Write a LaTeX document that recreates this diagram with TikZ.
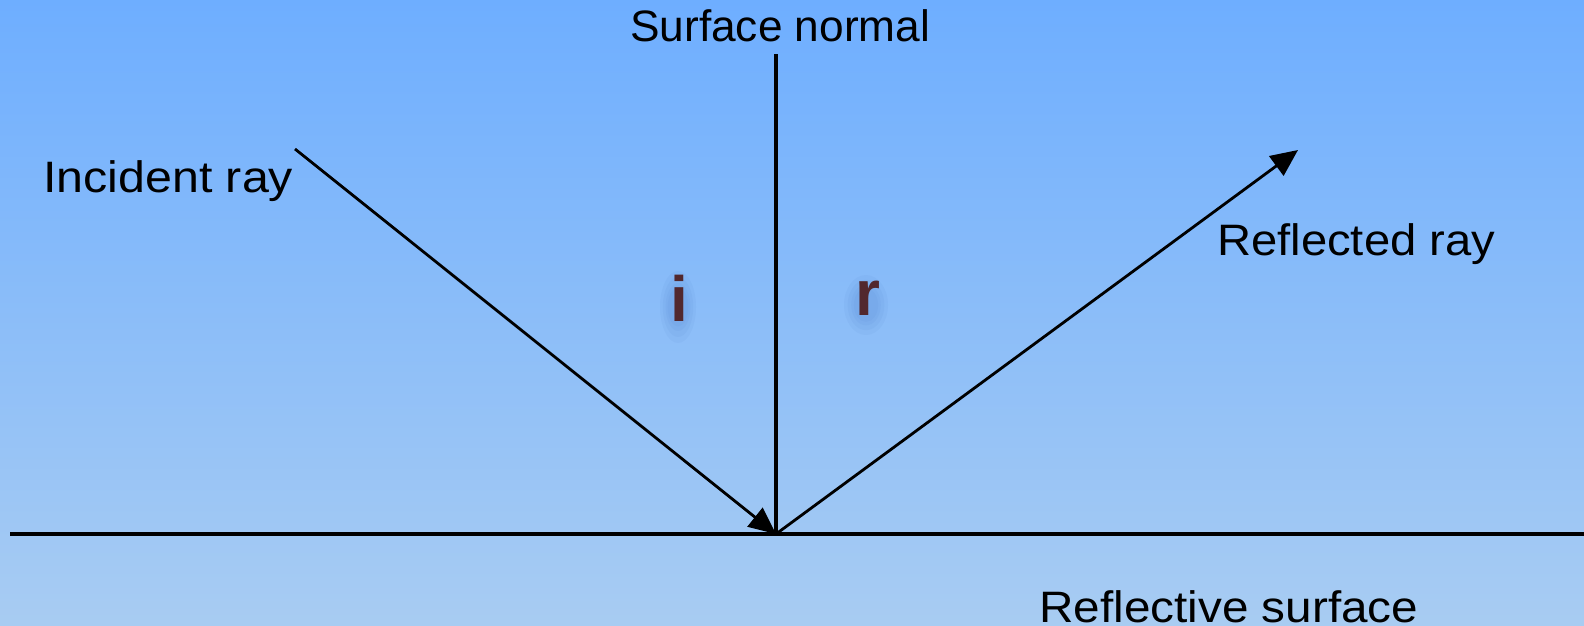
\documentclass[tikz,border=0pt]{standalone}
\usepackage{fontspec}
\setmainfont{Liberation Sans}
\usetikzlibrary{arrows.meta}
\definecolor{skytop}{RGB}{110,174,255}
\definecolor{skybot}{RGB}{168,204,242}
\definecolor{angcol}{RGB}{82,40,46}
\definecolor{glow}{RGB}{60,110,190}
\newcommand{\fitto}[2]{\resizebox{#1}{\height}{#2}}
\tikzset{
  lbl/.style={inner sep=0pt, anchor=base west, font=\fontsize{44}{44}\selectfont, text=black},
  ang/.style={inner sep=0pt, anchor=base west, font=\fontsize{64}{64}\selectfont\bfseries, text=angcol},
  halo/.style={fill=glow, opacity=0.06, draw=none},
  ray/.style={line width=2.8pt, black, -{Triangle[length=27pt,width=24pt]}},
  bar/.style={line width=3.6pt, black}
}
\begin{document}
\begin{tikzpicture}[x=1pt,y=1pt]
\useasboundingbox (0,0) rectangle (1584,625);
\shade[top color=skytop, bottom color=skybot] (0,0) rectangle (1584,625);
% key points
\coordinate (O) at (776,91);
\coordinate (N) at (776,571);
\coordinate (SL) at (10,91);
\coordinate (SR) at (1584,91);
\coordinate (A) at (295,476);
\coordinate (B) at (1298,475);
% soft halos behind angle letters
\foreach \r in {1,0.8,0.6,0.45} {
  \fill[halo] (678,318) ellipse ({14*\r+4} and {30*\r+6});
  \fill[halo] (866,320) ellipse ({18*\r+4} and {24*\r+6});
}
% lines
\draw[bar] (SL) -- (SR);
\draw[bar] (O) -- (N);
\draw[ray] (A) -- (O);
\draw[ray] (O) -- (B);
% labels
\node[lbl] (tn) at (630,583) {\fitto{300pt}{Surface normal}};
\node[lbl] (ti) at (43,432) {\fitto{250pt}{Incident ray}};
\node[lbl] (tr) at (1217,370) {\fitto{278pt}{Reflected ray}};
\node[lbl] (ts) at (1039,3) {\fitto{379pt}{Reflective surface}};
\node[ang] (li) at (670,304) {i};
\node[ang] (lr) at (855,310) {r};
\end{tikzpicture}
\end{document}
